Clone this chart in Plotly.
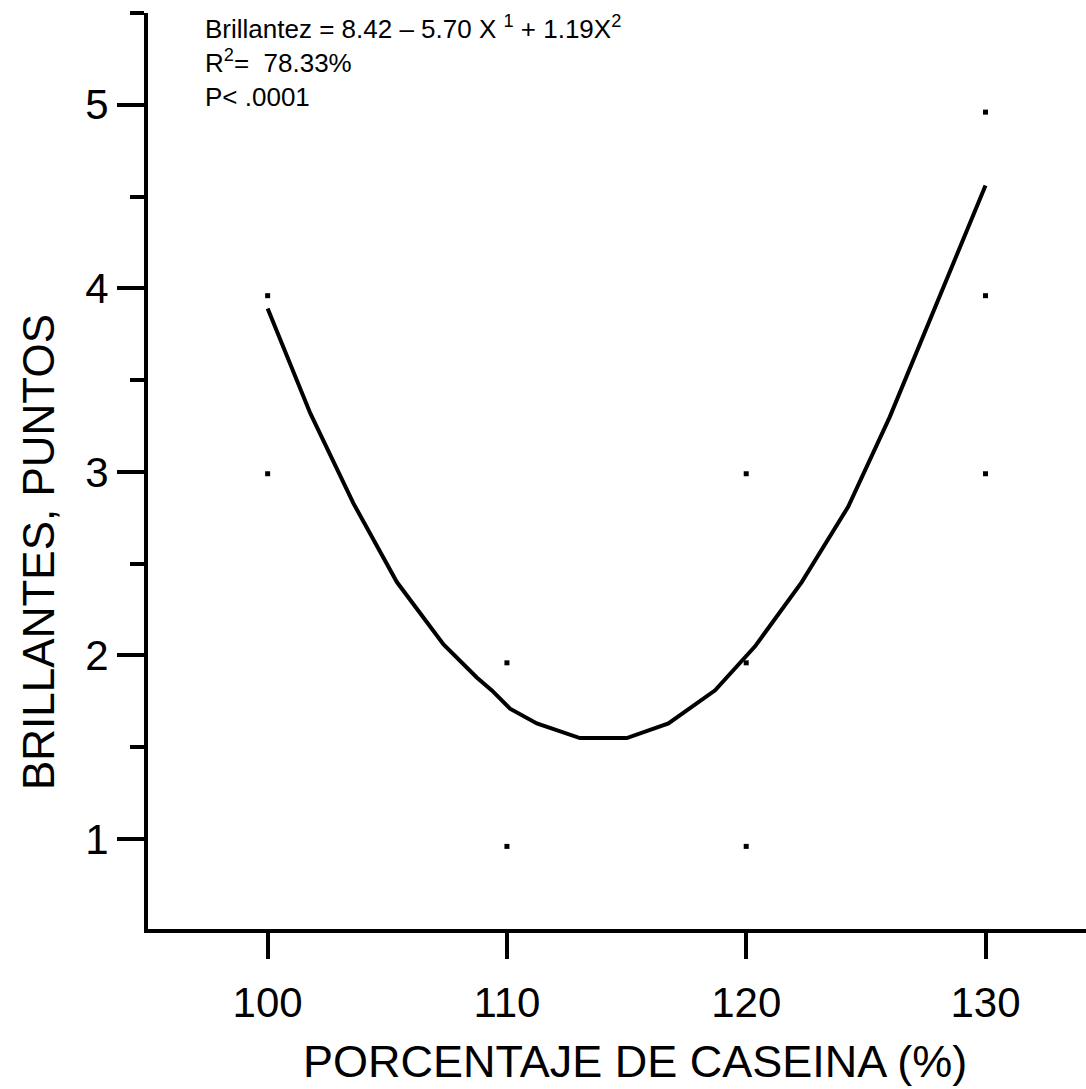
import plotly.graph_objects as go

# Observed data points (percentage of casein vs brilliance score)
obs_x = [100, 100, 110, 110, 120, 120, 120, 130, 130, 130]
obs_y = [3.96, 2.99, 1.96, 0.96, 2.99, 1.96, 0.96, 4.96, 3.96, 2.99]

# Fitted curve vertices
fit_x = [100.0, 101.78, 103.58, 105.40, 107.35, 108.74, 109.37, 110.13, 111.25,
         113.05, 115.01, 116.75, 118.70, 120.37, 122.32, 124.26, 126.0, 127.95, 130.0]
fit_y = [3.89, 3.32, 2.83, 2.40, 2.06, 1.88, 1.81, 1.71, 1.63,
         1.55, 1.55, 1.63, 1.81, 2.05, 2.40, 2.81, 3.30, 3.92, 4.56]

x_ticks = [100, 110, 120, 130]
y_ticks = [1, 2, 3, 4, 5]

eq_lines = [
    "Brillantez = 8.42 \u2013 5.70 X <sup>1</sup> + 1.19X<sup>2</sup>",
    "R<sup>2</sup>=\u00a0 78.33%",
    "P< .0001",
]
x_title = "PORCENTAJE DE CASEINA (%)"
y_title = "BRILLANTES, PUNTOS"

FONT = "Liberation Sans, Arial, sans-serif"

fig = go.Figure()
fig.add_trace(go.Scatter(x=fit_x, y=fit_y, mode="lines",
                         line=dict(color="black", width=4), showlegend=False))
fig.add_trace(go.Scatter(x=obs_x, y=obs_y, mode="markers",
                         marker=dict(symbol="square", size=5, color="black",
                                     line=dict(width=0)), showlegend=False))

W, H = 1086, 1089
L, R, T, B = 148, 0, 13, 160
pw, ph = W - L - R, H - T - B

def px(xp):
    return (xp - L) / pw

def py(yp):
    return (H - B - yp) / ph

fig.update_layout(
    width=W, height=H,
    margin=dict(l=L, r=R, t=T, b=B, pad=0),
    paper_bgcolor="white", plot_bgcolor="white",
    font=dict(family=FONT, color="black"),
    xaxis=dict(range=[95, 134.2], tickvals=x_ticks, ticks="outside", ticklen=26,
               tickwidth=3.5, tickcolor="black", showline=True, linewidth=4,
               linecolor="black", showgrid=False, zeroline=False,
               ticklabelstandoff=8,
               tickfont=dict(size=42, family=FONT, color="black")),
    yaxis=dict(range=[0.51, 5.5], tickvals=y_ticks, ticks="outside", ticklen=27,
               tickwidth=3.5, tickcolor="black", showline=True, linewidth=4,
               linecolor="black", showgrid=False, zeroline=False,
               minor=dict(tickvals=[1.5, 2.5, 3.5, 4.5, 5.5], ticks="outside",
                          ticklen=14, tickwidth=3.5, tickcolor="black", showgrid=False),
               tickfont=dict(size=42, family=FONT, color="black")),
    annotations=[
        dict(text="<br>".join(eq_lines), xref="paper", yref="paper",
             x=px(203), y=py(9), xanchor="left", yanchor="top", align="left",
             showarrow=False, font=dict(size=26, family=FONT, color="black")),
        dict(text=x_title, xref="paper", yref="paper", x=px(635), y=py(1061),
             xanchor="center", yanchor="middle", showarrow=False,
             font=dict(size=45, family=FONT, color="black")),
        dict(text=y_title, xref="paper", yref="paper", x=px(38), y=py(552),
             xanchor="center", yanchor="middle", textangle=-90, showarrow=False,
             font=dict(size=44, family=FONT, color="black")),
    ],
)

fig.write_html("out.html")
